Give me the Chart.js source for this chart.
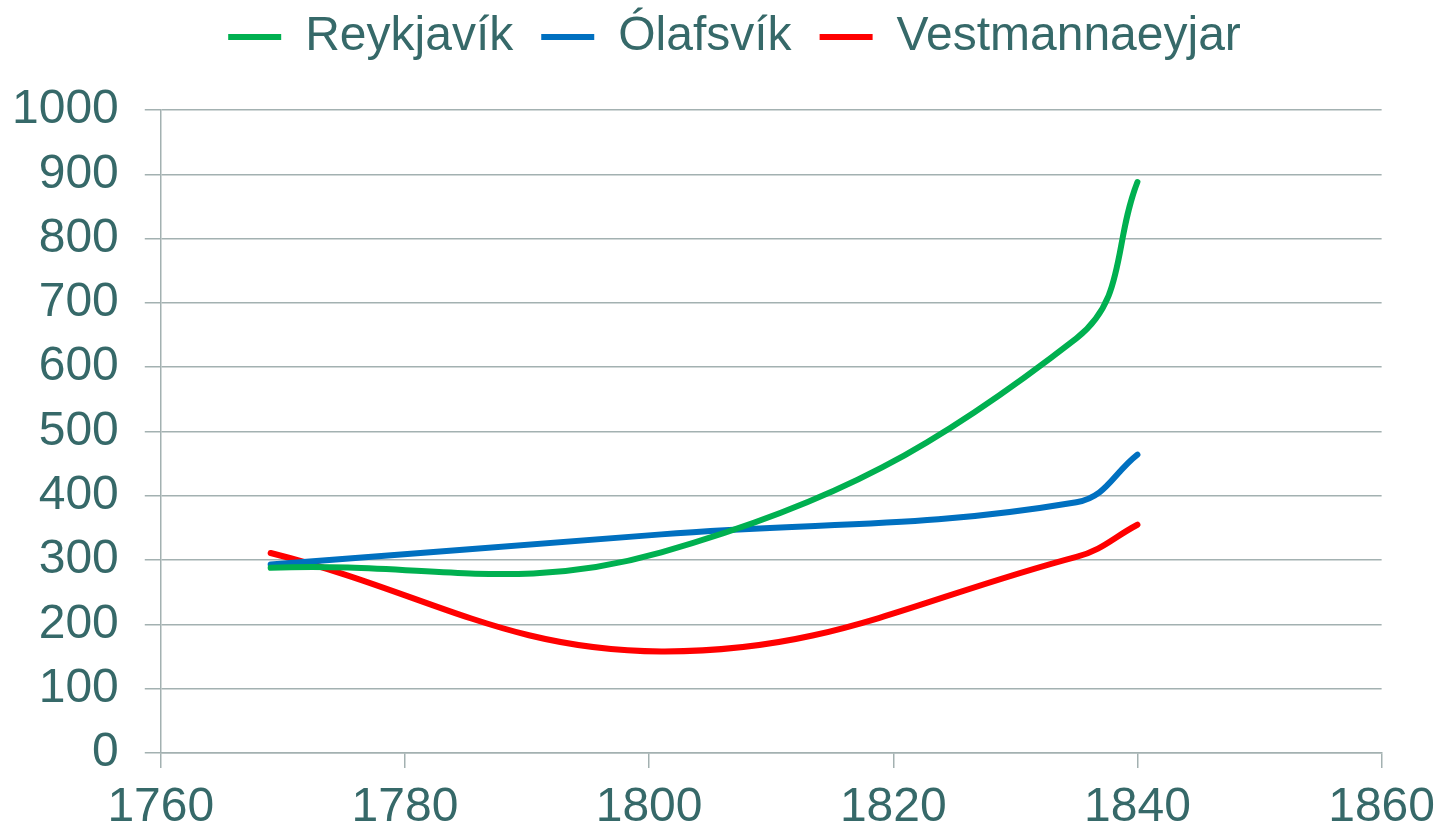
<!DOCTYPE html>
<html>
<head>
<meta charset="utf-8">
<title>Mannfjöldi</title>
<script src="https://cdn.jsdelivr.net/npm/chart.js@4/dist/chart.umd.min.js"></script>
<style>
  html, body { margin: 0; padding: 0; background: #ffffff; }
  #wrap { width: 1451px; height: 828px; }
</style>
</head>
<body>
<div id="wrap"><canvas id="line-chart" width="1451" height="828"></canvas></div>
<script>
// 数据
const years = [1769, 1801, 1835, 1840]; // 年份
const reykjavik = [288, 312, 645, 888];
const olafsvik = [293, 340, 390, 464];
const vestmannaeyjar = [311, 158, 305, 355];
const seriesNames = ['Reykjavík', 'Ólafsvík', 'Vestmannaeyjar'];
const xTicks = [1760, 1780, 1800, 1820, 1840, 1860];

const textColor = '#366969';
const gridColor = '#a3b1b1';
const fontFamily = "'Liberation Sans', Arial, sans-serif";

function toPoints(values) {
    return years.map((y, i) => ({ x: y, y: values[i] }));
}

function makeSet(name, values, color) {
    return {
        label: name,
        data: toPoints(values),
        showLine: true,
        borderColor: color,
        backgroundColor: color,
        borderWidth: 6,
        borderCapStyle: 'round',
        pointRadius: 0,
        pointHoverRadius: 0,
        tension: 0.4,
        fill: false
    };
}

// 图例位置微调（整体上移、右移）
const legendShift = {
    id: 'legendShift',
    afterLayout(chart) {
        const lg = chart.legend;
        lg.top -= 39;
        lg.bottom -= 39;
        lg.left += 42;
        lg.right += 42;
    }
};

const ctx = document.getElementById('line-chart').getContext('2d');
const chart = new Chart(ctx, {
    type: 'scatter',
    data: {
        datasets: [
            makeSet(seriesNames[0], reykjavik, '#00b050'),
            makeSet(seriesNames[1], olafsvik, '#0070c0'),
            makeSet(seriesNames[2], vestmannaeyjar, '#ff0000')
        ]
    },
    options: {
        responsive: false,
        animation: false,
        devicePixelRatio: 1,
        layout: { padding: { left: -14, right: 52, top: 24, bottom: -20 } },
        plugins: {
            legend: {
                position: 'top',
                labels: {
                    usePointStyle: true,
                    pointStyle: 'line',
                    pointStyleWidth: 53,
                    padding: 28,
                    color: textColor,
                    font: { family: fontFamily, size: 48 }
                }
            },
            tooltip: { enabled: false }
        },
        scales: {
            x: {
                type: 'linear',
                min: xTicks[0],
                max: xTicks[xTicks.length - 1],
                afterBuildTicks: (axis) => { axis.ticks = xTicks.map(v => ({ value: v })); },
                grid: {
                    drawOnChartArea: false,
                    drawTicks: true,
                    tickLength: 15,
                    color: gridColor,
                    lineWidth: 1.5
                },
                border: { display: true, color: gridColor, width: 1.5 },
                ticks: {
                    padding: 16,
                    color: textColor,
                    maxRotation: 0,
                    font: { family: fontFamily, size: 48, lineHeight: 1 },
                    callback: (v) => String(v)
                }
            },
            y: {
                min: 0,
                max: 1000,
                grid: {
                    drawOnChartArea: true,
                    drawTicks: true,
                    tickLength: 16,
                    color: gridColor,
                    lineWidth: 1.5
                },
                border: { display: true, color: gridColor, width: 1.5 },
                ticks: {
                    stepSize: 100,
                    padding: 26,
                    color: textColor,
                    font: { family: fontFamily, size: 48 },
                    callback: (v) => String(v)
                }
            }
        }
    },
    plugins: [legendShift]
});
</script>
</body>
</html>
